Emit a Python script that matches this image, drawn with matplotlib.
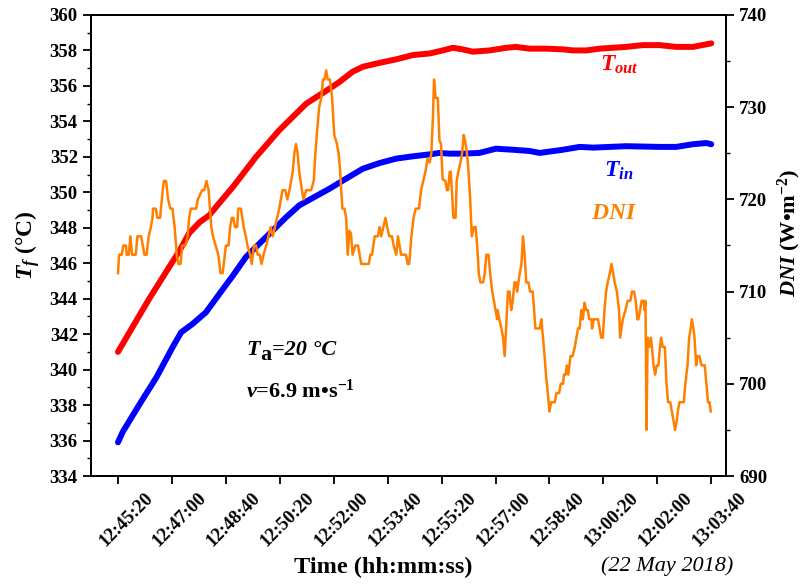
import numpy as np
import matplotlib
matplotlib.use('Agg')
import matplotlib.pyplot as plt
from matplotlib.ticker import MultipleLocator
from matplotlib.transforms import ScaledTranslation

# seconds after 12:45:20
tick_sec = [0, 100, 200, 300, 400, 500, 600, 700, 800, 900, 1000, 1100]
tick_labels = ['12:45:20', '12:47:00', '12:48:40', '12:50:20', '12:52:00', '12:53:40',
               '12:55:20', '12:57:00', '12:58:40', '13:00:20', '12:02:00', '13:03:40']

t_out_sec = [0, 27, 58, 89, 114, 132, 151, 169, 188, 213, 256, 299, 349, 395, 411, 435,
             454, 485, 516, 547, 578, 602, 621, 639, 658, 689, 720, 738, 763, 794, 825,
             844, 868, 893, 942, 973, 1004, 1035, 1066, 1100]
t_out = [341.0, 342.4, 344.0, 345.5, 346.7, 347.7, 348.3, 348.7, 349.4, 350.3, 352.0,
         353.5, 355.0, 355.9, 356.23, 356.8, 357.08, 357.3, 357.5, 357.74, 357.83, 358.0,
         358.15, 358.06, 357.93, 358.0, 358.15, 358.2, 358.1, 358.1, 358.06, 358.0,
         358.0, 358.1, 358.2, 358.3, 358.3, 358.2, 358.2, 358.4]

t_in_sec = [0, 9, 40, 71, 101, 117, 138, 163, 188, 213, 237, 262, 287, 312, 336, 392,
            423, 454, 485, 516, 547, 578, 596, 615, 639, 670, 701, 732, 763, 782, 825,
            856, 881, 942, 1004, 1035, 1066, 1091, 1100]
t_in = [335.9, 336.5, 338.05, 339.55, 341.25, 342.1, 342.57, 343.23, 344.27, 345.3,
        346.34, 347.1, 347.85, 348.6, 349.26, 350.2, 350.77, 351.33, 351.65, 351.9,
        352.03, 352.14, 352.22, 352.18, 352.18, 352.22, 352.46, 352.4, 352.33, 352.22,
        352.4, 352.56, 352.52, 352.6, 352.56, 352.56, 352.71, 352.78, 352.71]

dni_sec = [0, 2, 7, 10, 15, 16, 20, 23, 26, 33, 36, 43, 46, 49, 53, 57, 61, 64, 65, 70,
           73, 78, 83, 85, 89, 93, 97, 101, 105, 109, 112, 116, 119, 125, 129, 132, 135,
           145, 148, 156, 160, 164, 168, 173, 176, 181, 186, 190, 194, 197, 200, 205,
           208, 211, 214, 217, 221, 223, 228, 233, 237, 240, 245, 248, 252, 256, 259,
           263, 266, 270, 275, 279, 283, 287, 291, 295, 299, 302, 305, 310, 314, 318,
           321, 324, 327, 330, 333, 336, 341, 344, 349, 358, 363, 366, 370, 373, 377,
           380, 383, 386, 389, 393, 397, 401, 406, 409, 412, 416, 420, 423, 426, 429,
           432, 435, 440, 445, 451, 465, 468, 471, 476, 482, 485, 488, 492, 496, 499,
           503, 508, 511, 516, 519, 522, 525, 534, 537, 540, 544, 548, 552, 558, 562,
           566, 570, 574, 578, 581, 584, 586, 589, 593, 596, 599, 602, 607, 610, 612,
           615, 617, 619, 622, 626, 628, 631, 635, 638, 641, 644, 647, 650, 653, 656,
           660, 663, 666, 669, 672, 677, 680, 683, 687, 690, 694, 697, 700, 703, 704,
           707, 711, 714, 717, 720, 723, 726, 729, 732, 735, 738, 740, 745, 748, 751,
           754, 757, 761, 764, 769, 774, 782, 785, 788, 791, 794, 797, 800, 803, 810,
           813, 818, 821, 825, 827, 830, 832, 835, 839, 843, 847, 850, 853, 856, 859,
           862, 865, 868, 871, 874, 878, 879, 882, 890, 893, 896, 899, 902, 905, 908,
           912, 915, 918, 921, 925, 929, 931, 936, 941, 945, 950, 953, 957, 960, 963,
           965, 968, 971, 975, 976, 978, 980, 982, 985, 988, 990, 993, 996, 999, 1002,
           1005, 1007, 1010, 1014, 1017, 1020, 1024, 1027, 1030, 1033, 1036, 1038, 1041,
           1049, 1052, 1056, 1059, 1062, 1064, 1067, 1069, 1072, 1074, 1078, 1082, 1088,
           1091, 1094, 1097, 1099]
dni = [712, 714, 714, 715, 715, 714, 714, 716, 714, 714, 716, 716, 715, 714, 714, 716,
       717, 718, 719, 719, 718, 718, 721, 722, 722, 720, 719, 719, 717, 714, 713, 713,
       715, 715, 716, 718, 719, 719, 720, 721, 721, 722, 721, 717, 716, 715, 714, 712,
       712, 713.4, 715, 715, 717, 718, 718, 717, 717, 719, 719, 717, 716, 715, 714, 713,
       715, 715, 714, 714, 713, 714, 715, 716, 717, 716, 717, 718, 719, 720, 721, 721,
       720, 721, 722, 723, 725, 726, 725, 723, 721, 720, 721, 721, 722, 725, 728, 730,
       731, 733, 733, 734, 733, 733, 731, 727, 726, 725, 723, 719, 719, 718, 714, 716.6,
       716.3, 714, 715, 715, 713, 713, 714, 714, 716, 716, 717, 716, 717, 718, 717, 716,
       716, 715, 714, 716, 715, 714, 714, 713, 713, 716, 718, 719, 719, 721, 722, 723,
       724.4, 724, 725, 729, 733, 731, 731, 726.4, 726, 722.2, 722, 721, 721, 723, 723,
       721, 718, 718, 722, 723, 724, 725, 727, 726.2, 725, 723, 720, 716, 717, 717, 715,
       712, 711, 711, 712, 714, 714, 712, 710, 709, 708, 707, 708, 707, 706, 705, 703,
       706.5, 710, 710, 708, 709, 711, 711, 710, 712, 713, 716, 714, 711, 711, 710, 710,
       706, 706, 707, 705, 703, 700.7, 699, 697, 698, 698, 699, 699, 700, 700, 701, 701,
       702, 701, 703, 703, 704, 705, 706, 706, 708, 707, 708.8, 708, 708, 707, 707, 706,
       707, 707, 706, 705, 705, 708, 710, 711, 712, 713, 712, 711, 710, 708, 705, 707,
       708, 709, 709, 710, 710, 709, 707, 707, 708, 709, 709, 708, 709, 695, 705, 704,
       705, 704, 702, 701, 702, 702, 704, 705, 704, 704, 700, 698, 698, 697, 696, 695,
       696, 697, 698, 698, 700, 702, 705, 706, 707, 706, 705, 702, 703, 703, 702, 702,
       700, 698, 698, 697]

plt.rcParams['font.family'] = ['Liberation Serif', 'DejaVu Serif']
plt.rcParams['font.weight'] = 'bold'
plt.rcParams['mathtext.fontset'] = 'custom'
plt.rcParams['mathtext.rm'] = 'Liberation Serif:bold'
plt.rcParams['mathtext.it'] = 'Liberation Serif:italic:bold'
plt.rcParams['mathtext.bf'] = 'Liberation Serif:bold'

fig = plt.figure(figsize=(8.02, 5.85), dpi=100)
ax = fig.add_axes([0.1135, 0.1863, 0.7915, 0.7881])
ax2 = ax.twinx()

ax.plot(t_out_sec, t_out, color='#ff0000', lw=4.3, solid_capstyle='round', solid_joinstyle='round')
ax.plot(t_in_sec, t_in, color='#0000ff', lw=4.3, solid_capstyle='round', solid_joinstyle='round')
ax2.plot(dni_sec, dni, color='#ff8000', lw=1.8)

ax.set_xlim(-50, 1127)
ax.set_ylim(334, 360)
ax2.set_ylim(690, 740)

ax.set_xticks(tick_sec)
ax.set_xticklabels(tick_labels, rotation=45, ha='center', va='top')

ax.yaxis.set_major_locator(MultipleLocator(2))
ax.yaxis.set_minor_locator(MultipleLocator(1))
ax2.yaxis.set_major_locator(MultipleLocator(10))
ax2.yaxis.set_minor_locator(MultipleLocator(5))

ax.tick_params(axis='both', which='major', direction='out', length=6, width=1.3, labelsize=13.5)
ax.tick_params(axis='y', which='minor', direction='out', length=3, width=1.0)
ax.tick_params(axis='x', which='minor', bottom=False)
ax2.tick_params(axis='y', which='major', direction='out', length=6, width=1.3, labelsize=13.5)
ax2.tick_params(axis='y', which='minor', direction='out', length=3, width=1.0)
for a in (ax, ax2):
    for s in a.spines.values():
        s.set_linewidth(1.3)

# shift the rotated labels a little to the right, like the original
offset = ScaledTranslation(8 / 100, 0, fig.dpi_scale_trans)
for lab in ax.xaxis.get_majorticklabels():
    lab.set_transform(lab.get_transform() + offset)

ax.set_ylabel(r'$T_f$ (°C)', fontsize=17, fontweight='bold')
ax.yaxis.set_label_coords(-0.077, 0.5)
ax2.set_ylabel(r'$DNI$ (W•m$^{\mathbf{-2}}$)', fontsize=16, fontweight='bold')
ax2.yaxis.set_label_coords(1.078, 0.527)
fig.text(0.478, 0.012, 'Time (hh:mm:ss)', fontsize=17.5, ha='center', va='bottom')
fig.text(0.832, 0.015, '(22 May 2018)', fontsize=16, style='italic', weight='normal',
         ha='center', va='bottom')

ax.text(930, 357.2, r'$T_{out}$', color='#ff0000', fontsize=17, ha='center', va='center')
ax.text(928, 351.2, r'$T_{in}$', color='#0000ff', fontsize=17, ha='center', va='center')
ax2.text(919, 718.5, r'$DNI$', color='#ff8000', fontsize=17, ha='center', va='center')

t1 = ax.text(238, 340.84, 'T', fontsize=16, style='italic', va='baseline')
t2 = ax.annotate('a', xy=(1.0, 0.0), xycoords=t1, xytext=(0.5, -4), textcoords='offset points',
                 fontsize=16, va='bottom', ha='left')
ax.annotate('=20 °C', xy=(1.0, 0.0), xycoords=(t2, t1), fontsize=16, style='italic',
            va='bottom', ha='left')
ax.text(238, 338.4, r'$v$=6.9 m•s$^{\mathbf{-1}}$', fontsize=16, va='baseline')

fig.savefig('out.png', dpi=100)
